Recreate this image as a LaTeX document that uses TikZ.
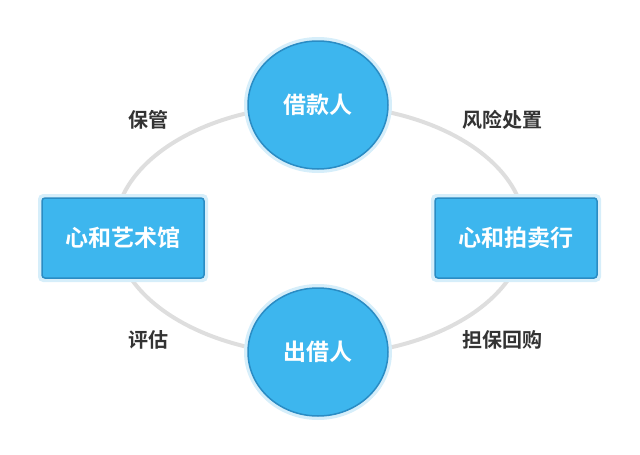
\documentclass[tikz,border=0pt]{standalone}
\usepackage{fontspec}
\newfontfamily\cjk{Noto Sans CJK SC}[BoldFont=* Bold]
\usetikzlibrary{shapes.geometric}
\definecolor{fillb}{HTML}{3DB6EE}
\definecolor{edgeb}{HTML}{2A8CC4}
\definecolor{ringg}{HTML}{DEDEDE}
\definecolor{glow}{HTML}{D6EEFA}
\begin{document}
\begin{tikzpicture}[x=1pt,y=-1pt,
  box/.style={draw=edgeb,line width=1.5pt,fill=fillb,text=white,font=\cjk\bfseries\fontsize{23}{23}\selectfont,
    double=none},
  circ/.style={box,ellipse,minimum width=140pt,minimum height=128pt},
  rect/.style={box,rectangle,rounded corners=3pt,minimum width=162pt,minimum height=80pt},
  lab/.style={font=\cjk\bfseries\fontsize{20}{20}\selectfont,text=black!80}]
\useasboundingbox (0,0) rectangle (640,455);
\coordinate (c) at (320,230);
\draw[ringg,line width=4pt] (c) ellipse [x radius=205, y radius=125];
\fill[glow] (318,105) ellipse [x radius=74, y radius=68];
\fill[glow] (318,352) ellipse [x radius=74, y radius=68];
\fill[glow,rounded corners=5pt] (38,194) rectangle (208,282);
\fill[glow,rounded corners=5pt] (431,194) rectangle (601,282);
\node[circ] (top) at (318,105) {借款人};
\node[circ] (bot) at (318,352) {出借人};
\node[rect] (left) at (123,238) {心和艺术馆};
\node[rect] (right) at (516,238) {心和拍卖行};
\node[lab] (l1) at (148,120) {保管};
\node[lab] (l2) at (502,120) {风险处置};
\node[lab] (l3) at (148,340) {评估};
\node[lab] (l4) at (502,340) {担保回购};
\end{tikzpicture}
\end{document}
